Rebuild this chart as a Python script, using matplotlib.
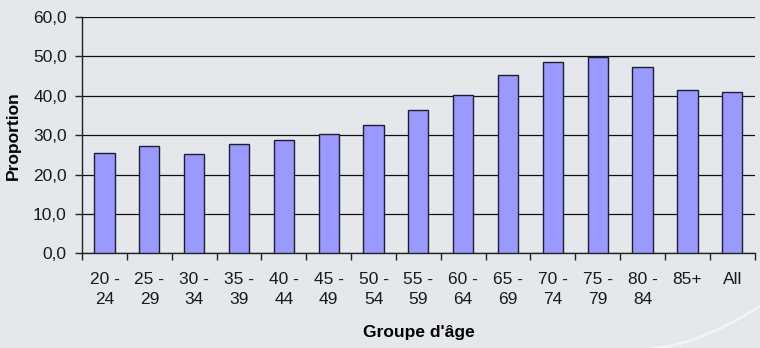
from matplotlib import pyplot as plt
from matplotlib.ticker import FixedLocator, FuncFormatter
import numpy as np

groups = ['20 -\n24', '25 -\n29', '30 -\n34', '35 -\n39', '40 -\n44', '45 -\n49',
          '50 -\n54', '55 -\n59', '60 -\n64', '65 -\n69', '70 -\n74', '75 -\n79',
          '80 -\n84', '85+', 'All']
proportion = [25.5, 27.2, 25.2, 27.9, 28.7, 30.3, 32.5, 36.3, 40.1, 45.3,
              48.5, 49.8, 47.4, 41.5, 40.9]

bg = '#e4e8eb'
plt.rcParams['font.family'] = ['Liberation Sans', 'DejaVu Sans']

fig = plt.figure(figsize=(7.6, 3.48), dpi=100, facecolor=bg)
ax = fig.add_axes([0.108, 0.2716, 0.885, 0.6795])
ax.set_facecolor(bg)

x = np.arange(len(groups))
ax.bar(x, proportion, width=0.45, color='#9999ff', edgecolor='#1e1e2e',
       linewidth=1.0, zorder=3)

ax.set_xlim(-0.5, len(groups) - 0.5)
ax.set_ylim(0, 60)
ax.set_yticks(np.arange(0, 61, 10))
ax.yaxis.set_major_formatter(FuncFormatter(lambda v, p: ('%.1f' % v).replace('.', ',')))
ax.grid(axis='y', color='#111111', linewidth=0.9, zorder=1)

# labels centred under bars, tick marks between categories
ax.set_xticks(x)
ax.set_xticklabels(groups)
for lab in ax.get_xticklabels():
    lab.set_linespacing(1.45)
ax.xaxis.set_minor_locator(FixedLocator(np.arange(-0.5, len(groups), 1.0)))
ax.tick_params(axis='x', which='major', length=0, pad=13, labelsize=12.5,
               labelcolor='#1a1a1a')
ax.tick_params(axis='x', which='minor', length=5, width=1, color='#222222')
ax.tick_params(axis='y', length=5, width=1, pad=6, labelsize=12.5,
               color='#222222', labelcolor='#1a1a1a')

for s in ['top', 'right']:
    ax.spines[s].set_visible(False)
for s in ['left', 'bottom']:
    ax.spines[s].set_color('#222222')
    ax.spines[s].set_linewidth(1.0)

ax.set_ylabel('Proportion', fontsize=12.5, fontweight='bold', labelpad=9)
ax.set_xlabel("Groupe d'âge", fontsize=12.5, fontweight='bold', labelpad=13)

# faint swoosh in the lower right corner
t = np.linspace(0, 1, 50)
fig.add_artist(plt.Line2D(0.86 + 0.14 * t, 0.0 + 0.12 * t ** 1.6,
                          transform=fig.transFigure, color='white',
                          linewidth=2.0, alpha=0.5))

fig.savefig('out.png', dpi=100, facecolor=bg)
